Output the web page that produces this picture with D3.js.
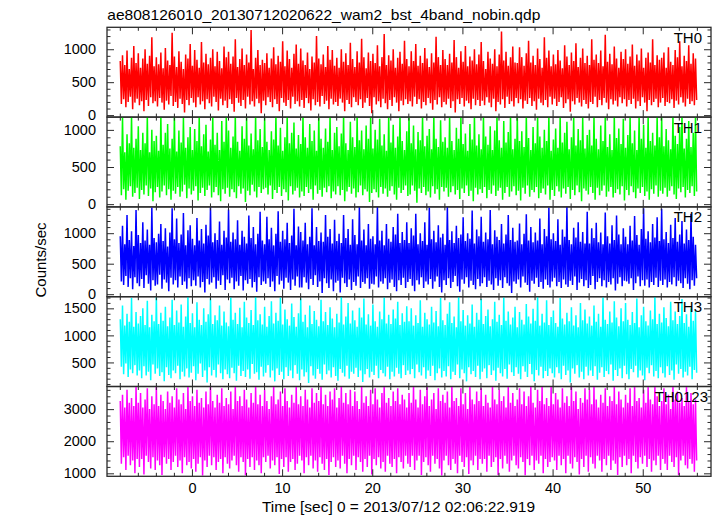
<!DOCTYPE html>
<html><head><meta charset="utf-8">
<script src="https://cdn.jsdelivr.net/npm/d3@7"></script>
<style>
html,body{margin:0;padding:0;background:#fff;}
svg{display:block;font-family:"Liberation Sans",Arial,sans-serif;}
</style></head>
<body>
<svg id="c" width="717" height="516"></svg>
<script>
const title = "ae808126010_20130712020622_wam2_bst_4band_nobin.qdp";
const xLabel = "Time [sec] 0 = 2013/07/12 02:06:22.919";
const yLabel = "Counts/sec";
const panelNames = ["TH0","TH1","TH2","TH3","TH0123"];
const panelColors = ["#ff0000","#00ff00","#0000ff","#00ffff","#ff00ff"];
const yDomains = [[-30,1333],[-37,1172],[-41,1431],[55,1715],[907,3705]];
const yMajor = [[0,500,1000],[0,500,1000],[0,500,1000],[500,1000,1500],[1000,2000,3000]];
const yMinorStep = [100,100,100,100,200];
const xDomain = [-9.42,57.57];
const xMajor = [0,10,20,30,40,50];
const tStart = -7.95;
const tBin = 0.1251;

const th0 = [
820,170,910,240,760,120,980,200,700,280,870,90,1050,190,790,250,940,150,720,210,860,60,1000,230,780,140,900,270,1180,180,740,210,
880,130,770,260,950,190,710,80,1020,220,830,160,760,290,1250,140,890,200,730,110,970,250,810,170,700,40,920,230,860,150,1080,260,
750,190,990,120,840,270,720,160,1110,210,800,90,930,240,770,180,870,130,1000,280,740,200,960,70,820,250,710,150,1040,220,880,110,
960,240,780,170,890,50,1150,260,730,190,850,140,1010,230,760,100,920,280,800,160,1290,210,700,130,870,250,990,180,760,30,840,220,
790,150,940,270,720,200,860,120,1030,240,770,170,900,60,810,260,1120,190,740,140,980,230,850,100,720,280,930,170,1070,210,780,130,
1010,230,830,110,760,260,950,180,700,70,890,240,800,150,1200,200,860,130,770,290,920,170,730,220,1050,90,840,250,990,160,750,200,
870,140,720,250,1000,190,810,60,940,230,760,170,1100,120,850,270,730,200,970,150,800,240,1160,110,880,190,710,260,950,140,820,30,
930,270,790,160,1060,210,740,120,880,250,1230,180,760,90,910,230,830,140,1000,270,720,190,870,60,960,220,780,150,1130,240,850,170,
740,210,970,130,820,280,1080,170,750,240,900,100,790,200,1020,150,860,260,730,180,940,80,800,230,1190,160,880,270,760,120,990,200,
850,160,760,250,930,110,800,210,1140,40,880,240,720,170,970,260,810,130,1050,220,740,180,890,90,830,250,1000,150,770,230,920,140,
1110,220,820,150,700,270,960,190,860,120,780,250,1000,60,740,200,920,160,1270,240,830,110,960,280,750,170,880,210,1040,130,800,260,
790,180,1030,240,880,100,750,220,940,170,1130,260,800,140,900,210,760,80,1010,250,850,190,720,150,1180,230,870,120,980,280,740,160,
920,250,770,140,990,200,830,270,710,110,1060,180,890,240,760,50,950,210,820,160,1090,260,730,190,870,130,1010,230,790,170,900,100,
760,200,1150,170,840,280,920,120,790,230,980,150,740,260,1220,190,810,90,930,240,770,160,1040,220,860,130,720,270,960,180,850,240,
1000,130,780,230,890,170,1070,250,750,100,920,210,830,140,1010,270,720,190,870,60,950,230,800,150,1150,200,760,250,910,120,840,190,
870,260,950,140,720,200,1030,180,810,240,760,110,990,220,880,160,1120,270,740,190,900,130,820,250,1060,170,780,210,940,150,860,230];

const th1 = [
780,120,1180,200,700,60,940,180,820,240,1190,100,760,150,880,220,1050,70,730,190,960,130,820,250,1180,110,700,210,1000,40,850,160,
920,230,720,90,1190,170,800,250,960,120,1080,200,750,60,880,180,1190,140,710,230,990,100,830,170,1160,260,760,80,900,210,1040,130,
730,180,1010,240,850,50,1180,150,780,220,940,110,1070,190,710,250,870,90,1190,160,800,230,960,120,730,40,1120,200,840,140,1190,220,
990,100,760,200,910,160,1190,80,840,240,720,140,1050,210,880,30,1170,180,790,120,950,260,740,170,1190,90,860,230,1010,150,770,200,
1160,220,840,130,730,250,980,70,870,190,1190,150,790,230,1030,110,720,200,900,160,1180,50,820,240,960,130,1100,180,750,220,930,90,
810,170,1190,110,900,230,760,150,1080,200,850,60,990,250,720,140,1190,190,880,100,760,220,1020,160,840,240,1190,80,730,170,960,130,
1040,240,780,120,950,190,1190,40,820,170,730,230,1110,140,900,210,770,90,1190,160,860,250,990,120,740,200,1060,170,880,30,1190,150,
750,200,1000,160,870,90,1150,230,790,140,940,210,720,100,1190,180,830,240,1070,130,760,60,910,220,1190,150,850,190,730,250,980,110,
1190,130,820,250,1060,180,740,20,970,210,860,150,1190,230,780,120,920,170,1010,90,740,240,1190,140,880,200,770,60,1130,230,840,170,
900,220,760,100,1190,160,850,240,730,130,1030,190,880,70,1190,210,810,150,950,250,720,110,1080,180,870,40,1190,220,790,130,940,200,
740,150,1190,230,910,80,800,190,1050,140,730,250,990,110,1190,180,860,220,760,60,1120,150,830,230,970,100,1190,170,740,240,880,120,
1190,180,850,50,980,220,770,140,1190,250,890,100,730,190,1040,160,820,230,1190,80,910,150,760,210,1000,130,850,250,1190,60,720,190,
870,110,1020,240,760,170,1190,90,830,210,960,140,1110,230,740,70,900,190,1190,120,790,250,1010,160,860,40,1170,210,750,180,930,130,
1000,230,790,150,1190,60,880,220,740,120,1060,180,850,250,1190,100,770,170,940,230,730,90,1190,150,890,200,1020,130,810,240,1150,50,
760,190,930,120,1190,240,820,160,990,80,730,210,1190,150,880,230,1070,110,760,170,1190,60,850,200,960,140,790,250,1190,100,900,180,
1190,140,780,220,1010,100,860,180,740,240,1190,130,920,70,810,210,1040,160,1190,230,750,90,880,190,1120,150,770,240,960,110,1190,170];

const th2 = [
950,210,1120,150,820,300,1300,120,890,260,1030,80,790,280,1380,180,970,130,840,250,1180,100,880,310,1060,170,810,60,1420,230,920,140,
850,160,990,320,1150,90,870,240,1080,190,780,50,1010,270,1410,160,900,230,1240,110,840,290,980,150,1330,210,800,90,1050,260,1130,130,
910,230,800,140,1250,290,880,110,1070,200,830,30,1140,250,960,160,1430,190,850,280,1000,90,890,220,1190,150,810,310,1040,70,930,240,
1390,180,860,270,1010,80,900,210,1210,140,810,300,1040,60,940,230,830,170,1290,250,920,110,1100,200,820,40,990,280,1350,150,880,210,
820,170,1270,260,900,120,1090,210,800,50,990,300,1360,160,860,220,1040,90,900,270,1170,190,840,70,960,240,1400,140,800,290,1110,110,
1020,110,880,280,1170,190,820,80,940,250,1410,150,800,310,1100,120,870,210,1010,20,860,260,1300,180,940,100,1070,240,830,50,1220,190,
870,220,990,30,840,270,1300,180,920,120,1070,240,810,70,1230,200,970,140,820,290,1430,100,880,200,1060,170,800,260,1150,90,910,170,
950,160,820,290,1430,110,880,210,1040,170,800,260,1150,80,910,190,860,240,1100,120,980,50,1320,230,840,150,1020,270,890,100,1180,200,
840,250,1080,140,960,50,1320,230,820,160,1000,280,870,100,1180,210,810,160,1420,250,900,90,1040,210,850,290,1130,120,930,30,990,230,
810,150,1430,260,890,100,1030,200,840,300,1120,130,920,40,980,240,1260,170,870,280,1000,110,910,220,1370,150,830,80,1060,250,950,130,
1270,180,860,280,1010,120,900,220,1380,160,820,70,1050,260,940,140,890,230,1150,100,830,280,980,180,1300,140,890,20,1090,210,860,170,
880,240,1160,110,820,290,990,190,1310,150,880,40,1100,220,850,170,1010,270,880,120,1240,200,820,90,1070,240,950,150,1420,110,900,210,
1000,270,870,130,1230,200,810,100,1060,240,940,160,1430,120,890,220,820,150,1090,290,930,70,1180,190,860,250,1020,130,830,230,1350,100,
830,150,1080,300,920,80,1170,200,850,260,1010,130,820,230,1340,110,950,200,830,160,1130,260,890,60,1290,170,980,280,820,130,1080,220,
940,210,820,170,1120,260,880,70,1280,180,970,290,810,130,1070,230,1410,140,910,240,1030,110,850,200,1150,150,930,270,1260,120,870,220,
1400,150,900,240,1020,110,840,200,1140,160,920,280,1250,130,860,220,980,180,1200,100,830,260,1060,170,890,80,1320,230,940,140,810,260];

const th3 = [
1300,420,1550,280,1180,480,1400,230,1250,370,1690,300,1160,450,1430,260,1220,350,1360,210,1500,430,1190,260,1640,330,1150,170,1380,460,1260,290,
1715,390,1210,250,1420,320,1270,150,1530,410,1170,270,1330,210,1660,350,1190,300,1460,440,1240,190,1570,330,1160,240,1350,390,1715,220,1230,310,
1410,430,1150,170,1610,290,1290,480,1190,230,1500,350,1250,130,1390,410,1680,260,1210,360,1370,220,1280,460,1550,300,1180,190,1440,370,1240,280,
1170,210,1700,400,1290,300,1420,160,1210,440,1510,250,1150,340,1620,230,1330,370,1230,200,1470,470,1190,290,1715,320,1280,180,1390,420,1200,240,
1530,310,1160,450,1360,220,1630,350,1220,150,1420,390,1270,270,1700,330,1200,190,1480,410,1300,250,1180,350,1590,210,1340,450,1160,290,1410,170,
1680,370,1250,240,1380,320,1150,120,1550,430,1210,260,1450,200,1290,380,1170,290,1660,180,1260,460,1430,280,1190,350,1520,220,1310,410,1150,250,
1400,160,1240,380,1715,310,1200,240,1350,440,1600,200,1220,330,1460,290,1280,400,1160,230,1510,350,1330,140,1680,280,1200,380,1390,220,1180,330,
1570,270,1260,440,1160,210,1440,360,1300,300,1700,240,1220,420,1380,190,1210,330,1480,240,1310,400,1620,290,1190,210,1410,450,1250,270,1540,350,
1260,280,1500,380,1180,210,1370,460,1230,320,1650,260,1160,410,1420,200,1300,350,1200,250,1530,440,1240,170,1450,300,1170,390,1690,220,1280,340,
1190,240,1400,430,1610,190,1230,330,1350,270,1150,460,1715,210,1260,370,1470,300,1180,150,1370,410,1220,280,1570,340,1160,230,1420,440,1290,190,
1670,330,1210,390,1360,210,1480,450,1170,270,1300,350,1620,160,1250,400,1380,300,1190,240,1700,380,1270,200,1440,460,1200,320,1330,250,1530,410,
1150,290,1430,190,1290,430,1200,330,1580,230,1350,470,1220,280,1490,150,1270,360,1715,260,1180,420,1400,210,1240,340,1650,250,1190,390,1340,300,
1460,220,1230,410,1160,300,1690,190,1310,440,1200,270,1420,350,1260,130,1520,390,1180,290,1370,450,1150,220,1600,330,1280,190,1480,420,1220,260,
1350,350,1180,250,1550,430,1250,180,1400,310,1160,410,1700,230,1290,340,1210,280,1440,460,1240,160,1630,360,1330,250,1170,390,1500,210,1260,440,
1600,280,1290,190,1190,380,1430,320,1230,440,1680,220,1150,350,1370,260,1530,170,1260,400,1180,300,1460,450,1300,240,1715,340,1210,210,1400,410,
1240,300,1520,220,1320,430,1170,270,1620,350,1280,180,1440,460,1210,290,1360,380,1670,220,1230,330,1390,260,1160,420,1500,190,1270,360,1450,310];

const th0123 = [
3250,1300,3450,1500,3050,1100,3600,1550,3200,1250,3350,1400,3100,1000,3700,1450,3200,1200,3500,1450,3050,960,3300,1550,3650,1350,3000,1150,3400,1500,3150,1100,
3705,1400,3100,1250,3450,950,3250,1500,3000,1300,3550,1450,3200,1100,3400,1350,3050,1550,3650,1200,3300,1400,3150,1000,3500,1500,3000,1250,3705,1350,3250,1150,
3400,1450,3100,1050,3600,1300,3200,1500,3350,930,3050,1400,3550,1200,3150,1550,3705,1250,3250,1500,3050,1100,3450,1350,3200,1450,3650,1000,3100,1500,3350,1300,
3150,1150,3550,1400,3000,1550,3705,1250,3250,1050,3400,1500,3100,1350,3600,940,3300,1450,3050,1200,3500,1500,3200,1100,3700,1400,3150,1250,3450,1000,3100,1500,
3600,1350,3250,1550,3000,1150,3400,1400,3705,1250,3150,1500,3300,980,3550,1450,3100,1200,3650,1500,3250,1050,3050,1350,3450,1450,3200,1100,3705,1300,3150,1550,
3400,1400,3100,1000,3600,1500,3300,1250,3050,1550,3650,1150,3200,1400,3500,1050,3250,1500,3705,1300,3150,1100,3450,1450,3100,950,3550,1350,3300,1500,3650,1200,
3050,1400,3350,1150,3705,1550,3200,1300,3500,1000,3150,1450,3600,1250,3100,1550,3550,1100,3250,1500,3000,1350,3700,1050,3200,1450,3400,1200,3100,1550,3600,960,
3150,1450,3650,1250,3300,1500,3050,1150,3500,1350,3705,1050,3200,1550,3350,1300,3100,1200,3550,1450,3250,1000,3650,1500,3150,1350,3450,1150,3300,1550,3050,1300,
3500,1200,3200,1550,3705,1100,3300,1400,3050,1550,3600,950,3150,1350,3400,1500,3705,1250,3100,1050,3300,1550,3500,1300,3000,1450,3650,1150,3250,930,3450,1400,
3200,1550,3550,1250,3050,1100,3705,1450,3250,1300,3350,1000,3100,1550,3650,1350,3150,1200,3500,1500,3000,980,3705,1400,3300,1250,3150,1550,3550,1100,3250,1450,
3650,1300,3100,1450,3450,1050,3200,1550,3050,1200,3705,1350,3300,1500,3150,950,3600,1450,3250,1150,3400,1550,3050,1300,3705,1050,3200,1400,3500,1550,3100,1250,
3300,1150,3650,1500,3150,1350,3550,940,3100,1450,3400,1250,3705,1550,3200,1100,3050,1400,3600,1300,3250,1550,3705,1000,3150,1450,3350,1200,3100,1350,3705,1500,
3150,1400,3500,1100,3300,1550,3050,1250,3650,1450,3200,1000,3400,1550,3100,1300,3705,1150,3250,1500,3550,1350,3000,960,3350,1450,3200,1200,3650,1550,3300,1050,
3600,1500,3150,1300,3705,1150,3300,1550,3050,1400,3450,1050,3200,1450,3650,1250,3100,1550,3400,1100,3250,1400,3705,1300,3150,950,3550,1500,3300,1200,3050,1550,
3450,1250,3200,1450,3650,1000,3100,1550,3705,1350,3250,1150,3350,1500,3050,1300,3600,1550,3200,1200,3705,1450,3300,1050,3150,1400,3705,1250,3400,1550,3100,1100,
3250,1450,3650,1300,3150,1100,3450,1550,3000,1350,3705,1200,3300,1500,3550,950,3200,1400,3350,1550,3100,1250,3705,1150,3250,1450,3500,1300,3150,1050,3300,1400];

const seriesList = [th0, th1, th2, th3, th0123];

// layout
const plotL = 107, plotR = 711, plotT = 27.3, plotB = 476.3;
const ph = (plotB - plotT) / 5;
const labelRight = [702, 702, 702, 702, 708];
const svg = d3.select("#c");
const x = d3.scaleLinear().domain(xDomain).range([plotL, plotR]);
const frameColor = "#2a2a2a";
const font = 14.5;
const ff = "Liberation Sans, Arial, sans-serif";

svg.append("text").attr("x", 107.3).attr("y", 19.5).attr("font-size", 15)
  .attr("textLength", 433).attr("lengthAdjust", "spacingAndGlyphs")
  .attr("fill", "#000").text(title);

const defs = svg.append("defs");

seriesList.forEach((vals, p) => {
  const y0 = plotT + p * ph, y1 = y0 + ph;
  const y = d3.scaleLinear().domain(yDomains[p]).range([y1, y0]);
  const g = svg.append("g");
  defs.append("clipPath").attr("id", "clip" + p)
    .append("rect").attr("x", plotL).attr("y", y0).attr("width", plotR - plotL).attr("height", ph);

  const line = d3.line()
    .x((d, i) => x(tStart + i * tBin))
    .y(d => y(d));
  g.append("path").datum(vals)
    .attr("clip-path", "url(#clip" + p + ")")
    .attr("fill", "none").attr("stroke", panelColors[p])
    .attr("stroke-width", 1.5).attr("stroke-linejoin", "miter").attr("stroke-miterlimit", 1.5)
    .attr("d", line);

  const [d0, d1] = yDomains[p];
  const st = yMinorStep[p];
  const minors = d3.range(Math.ceil(d0 / st) * st, d1 + 0.001, st).filter(v => !yMajor[p].includes(v));
  const gl = g.append("g").attr("transform", `translate(${plotL},0)`)
    .call(d3.axisLeft(y).tickValues(yMajor[p]).tickSize(-7).tickPadding(11).tickFormat(d3.format("d")));
  gl.select(".domain").remove();
  gl.selectAll("text").attr("font-size", font).attr("font-family", ff).attr("fill", "#000");
  gl.selectAll("line").attr("stroke", frameColor);
  const tickG = (tx, ax, vals2, size) => {
    g.append("g").attr("transform", tx)
      .call(ax.tickValues(vals2).tickSize(size).tickFormat(""))
      .call(s => s.select(".domain").remove())
      .selectAll("line").attr("stroke", frameColor);
  };
  tickG(`translate(${plotL},0)`, d3.axisLeft(y), minors, -3.5);
  tickG(`translate(${plotR},0)`, d3.axisRight(y), yMajor[p], -7);
  tickG(`translate(${plotR},0)`, d3.axisRight(y), minors, -3.5);

  const xMin = d3.range(-8, 57, 2).filter(v => !xMajor.includes(v));
  tickG(`translate(0,${y0})`, d3.axisTop(x), xMajor, -7);
  tickG(`translate(0,${y0})`, d3.axisTop(x), xMin, -3.5);
  tickG(`translate(0,${y1})`, d3.axisBottom(x), xMajor, -7);
  tickG(`translate(0,${y1})`, d3.axisBottom(x), xMin, -3.5);

  g.append("rect").attr("x", plotL).attr("y", y0).attr("width", plotR - plotL).attr("height", ph)
    .attr("fill", "none").attr("stroke", frameColor).attr("stroke-width", 1.3);

  g.append("text").attr("x", labelRight[p]).attr("y", y0 + 15.5).attr("font-size", 15)
    .attr("text-anchor", "end").attr("fill", "#000").text(panelNames[p]);
});

const xl = svg.append("g").attr("transform", `translate(0,${plotB})`)
  .call(d3.axisBottom(x).tickValues(xMajor).tickSize(0).tickPadding(6).tickFormat(d3.format("d")));
xl.select(".domain").remove();
xl.selectAll("text").attr("font-size", font).attr("font-family", ff).attr("fill", "#000");

svg.append("text").attr("x", 262).attr("y", 511.5)
  .attr("font-size", 15).attr("textLength", 273).attr("lengthAdjust", "spacingAndGlyphs")
  .attr("fill", "#000").text(xLabel);

svg.append("text").attr("transform", "translate(46,260) rotate(-90)")
  .attr("text-anchor", "middle").attr("font-size", 15).attr("fill", "#000").text(yLabel);
</script>
</body></html>
